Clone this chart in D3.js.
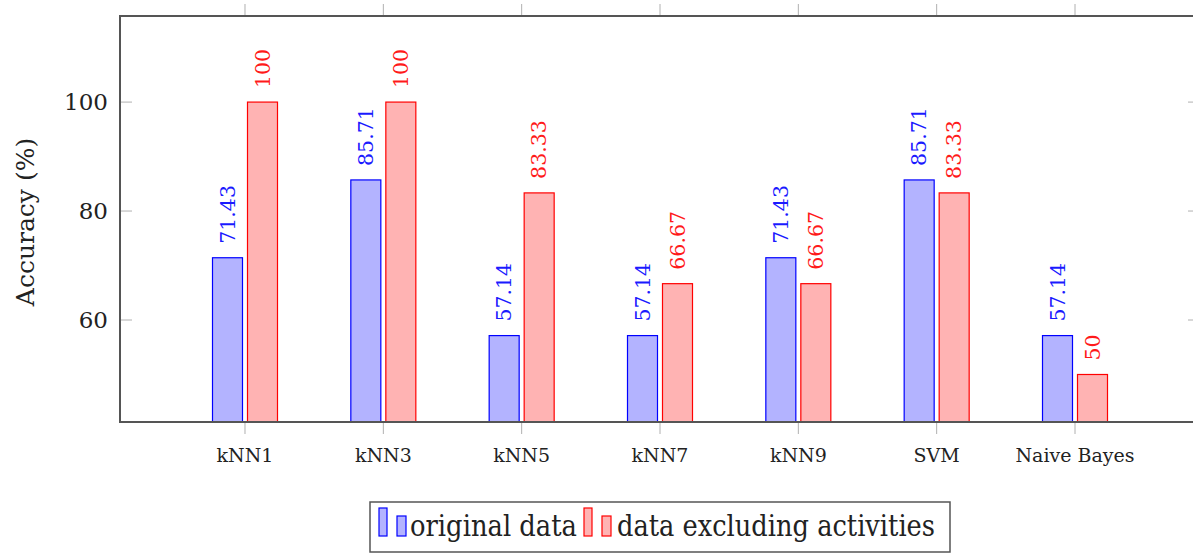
<!DOCTYPE html>
<html><head><meta charset="utf-8">
<script src="https://cdn.jsdelivr.net/npm/d3@7"></script>
<style>body{margin:0;background:#fff}svg{display:block}</style>
</head><body>
<svg id="c" width="1193" height="553"></svg>
<script>
const categories = ["kNN1","kNN3","kNN5","kNN7","kNN9","SVM","Naive Bayes"];
const originalData = [71.43, 85.71, 57.14, 57.14, 71.43, 85.71, 57.14];
const excludingData = [100, 100, 83.33, 66.67, 66.67, 83.33, 50];
const originalLabels = ["71.43","85.71","57.14","57.14","71.43","85.71","57.14"];
const excludingLabels = ["100","100","83.33","66.67","66.67","83.33","50"];
const yTicks = [60, 80, 100];
const seriesNames = ["original data", "data excluding activities"];

const FONT = "'DejaVu Serif', serif";
const svg = d3.select("#c");
const pLeft = 120, pRight = 1200, pTop = 16, pBottom = 422;

const x = d3.scaleLinear().domain([-0.9036, 6.9036]).range([pLeft, pRight]);
const y = d3.scaleLinear().domain([41.28, 115.8]).range([pBottom, pTop]);
const barW = 30, off = 17.5;

const series = [
  {vals: originalData, labels: originalLabels, fill: "#b3b3ff", stroke: "#0000ff", text: "#1a1aff", dx: -off},
  {vals: excludingData, labels: excludingLabels, fill: "#ffb3b3", stroke: "#ff0000", text: "#ff1a1a", dx: off}
];

// top x ticks (outside)
svg.append("g").selectAll("line").data(categories).join("line")
  .attr("x1", (d,i)=>x(i)).attr("x2",(d,i)=>x(i))
  .attr("y1", pTop-12).attr("y2", pTop).attr("stroke","#b0b0b0").attr("stroke-width",1);
// bottom x ticks
svg.append("g").selectAll("line").data(categories).join("line")
  .attr("x1", (d,i)=>x(i)).attr("x2",(d,i)=>x(i))
  .attr("y1", pBottom).attr("y2", pBottom+12).attr("stroke","#b0b0b0").attr("stroke-width",1);

// bars
series.forEach(s => {
  svg.append("g").selectAll("rect").data(s.vals).join("rect")
    .attr("x", (d,i)=>x(i)+s.dx-barW/2)
    .attr("y", d=>y(d))
    .attr("width", barW)
    .attr("height", d=>pBottom-y(d))
    .attr("fill", s.fill).attr("stroke", s.stroke).attr("stroke-width", 1.2);
  svg.append("g").selectAll("text").data(s.vals).join("text")
    .attr("transform", (d,i)=>`translate(${x(i)+s.dx},${y(d)-14}) rotate(-90)`)
    .attr("dy","0.35em")
    .attr("font-family", FONT).attr("font-size", 20.5)
    .attr("fill", s.text)
    .text((d,i)=>s.labels[i]);
});

// y ticks (inside, both sides)
const yt = svg.append("g");
yt.selectAll("line.l").data(yTicks).join("line").attr("class","l")
  .attr("x1", pLeft).attr("x2", pLeft+12).attr("y1", d=>y(d)).attr("y2", d=>y(d))
  .attr("stroke","#b0b0b0");
yt.selectAll("line.r").data(yTicks).join("line").attr("class","r")
  .attr("x1", pRight-12).attr("x2", pRight).attr("y1", d=>y(d)).attr("y2", d=>y(d))
  .attr("stroke","#b0b0b0");
yt.selectAll("text").data(yTicks).join("text")
  .attr("x", pLeft-12).attr("y", d=>y(d)).attr("dy","0.36em")
  .attr("text-anchor","end").attr("font-family", FONT).attr("font-size", 23)
  .attr("fill","#222").text(d=>d);

// frame
svg.append("rect").attr("x", pLeft).attr("y", pTop).attr("width", pRight-pLeft).attr("height", pBottom-pTop)
  .attr("fill","none").attr("stroke","#555").attr("stroke-width",2);

// x labels
svg.append("g").selectAll("text").data(categories).join("text")
  .attr("x",(d,i)=>x(i)).attr("y", 462).attr("text-anchor","middle")
  .attr("font-family", FONT).attr("font-size", 19).attr("fill","#222").text(d=>d);

// y label
svg.append("text").attr("transform", `translate(34,222) rotate(-90)`)
  .attr("text-anchor","middle").attr("font-family", FONT).attr("font-size", 25)
  .attr("fill","#222").text("Accuracy (%)");

// legend
const lg = svg.append("g");
lg.append("rect").attr("x",370).attr("y",502).attr("width",580).attr("height",50)
  .attr("fill","#fff").attr("stroke","#555").attr("stroke-width",1.5);
const legendItems = [
  {name: seriesNames[0], s: series[0], x0: 379, tx: 410, tw: 167},
  {name: seriesNames[1], s: series[1], x0: 584, tx: 617, tw: 318}
];
legendItems.forEach(it => {
  lg.append("rect").attr("x", it.x0).attr("y", 508).attr("width", 8).attr("height", 28)
    .attr("fill", it.s.fill).attr("stroke", it.s.stroke).attr("stroke-width",1.2);
  lg.append("rect").attr("x", it.x0+18).attr("y", 516).attr("width", 9).attr("height", 20)
    .attr("fill", it.s.fill).attr("stroke", it.s.stroke).attr("stroke-width",1.2);
  lg.append("text").attr("x", it.tx).attr("y", 536)
    .attr("textLength", it.tw).attr("lengthAdjust", "spacingAndGlyphs")
    .attr("font-family", FONT).attr("font-size", 29).attr("fill","#222").text(it.name);
});
</script>
</body></html>
